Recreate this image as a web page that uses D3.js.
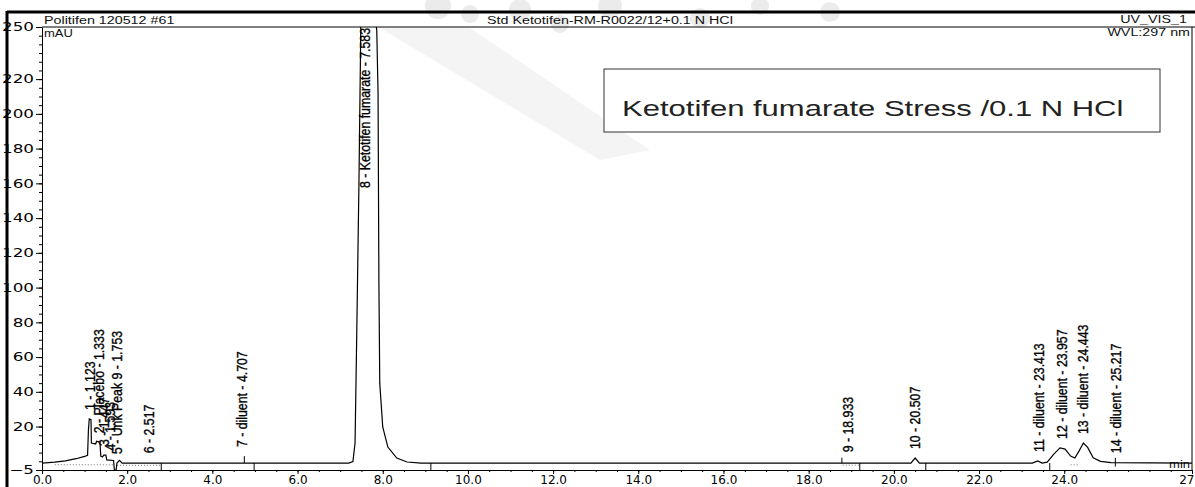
<!DOCTYPE html>
<html>
<head>
<meta charset="utf-8">
<script src="https://cdn.jsdelivr.net/npm/d3@7"></script>
<style>
body { margin: 0; background: #fff; }
svg { display: block; }
</style>
</head>
<body>
<div id="chart"></div>
<script>
// chromatogram trace (time in min, signal in mAU)
const traceTime  = [0.00, 0.30, 0.55, 0.80, 1.00, 1.07, 1.09, 1.11, 1.15, 1.16, 1.26, 1.28, 1.36, 1.38, 1.42, 1.45, 1.50, 1.52, 1.68, 1.70, 1.74, 1.76, 1.82, 1.88,
                    7.20, 7.30, 7.35, 7.39, 7.44, 7.49, 7.80, 7.86, 7.89, 7.91, 7.93, 8.00, 8.12, 8.33, 8.57, 8.90,
                    20.40, 20.50, 20.60, 23.25, 23.38, 23.48, 23.60, 23.75, 23.90, 24.02, 24.15, 24.25, 24.35, 24.45, 24.55, 24.68, 24.85, 25.10, 27.00];
const traceValue = [-1.0, -0.5, 0.3, 1.5, 2.8, 3.5, 18, 24.4, 24, 10.5, 10, 11.5, 11, 3, 2.5, 3.6, 3.6, 0.8, 0.5, -5, -5, -1, 0.5, -1,
                    -1, -0.2, 10.5, 73.9, 157.9, 260, 260, 248, 212, 102.7, 45, 19.8, 8.2, 1.9, -0.4, -1,
                    -1, 1.9, -1, -1, 0.2, -1, -0.5, 4, 7.7, 7, 3, 1.9, 6, 10.5, 8, 2, 0, -0.8, -1];

// peak annotations
const peakTime   = [1.123, 1.333, 1.447, 1.593, 1.753, 2.517, 4.707, 7.583, 18.933, 20.507, 23.413, 23.957, 24.443, 25.217];
const peakHeight = [24.4, 11, 3.6, 1, -1, -0.5, 3, 260, 0, 1.9, 0.2, 7.7, 10.5, -0.5];
const peakLabel  = ["1 - 1.123", "2 - Placebo - 1.333", "3 - 1.447", "4 - 1.593", "5 - Unk Peak 9 - 1.753", "6 - 2.517",
                    "7 - diluent - 4.707", "8 - Ketotifen fumarate - 7.583", "9 - 18.933", "10 - 20.507",
                    "11 - diluent - 23.413", "12 - diluent - 23.957", "13 - diluent - 24.443", "14 - diluent - 25.217"];

// peak start / end delimiters
const markTime = [2.8, 4.75, 4.98, 9.13, 18.78, 19.2, 20.75, 23.66, 25.2];
const markFrom = [-1, -1, -1, -1, -1, -1, -1, -1, -3];
const markTo   = [-5, 3, -5, -5, 2, -5, -5, -5, 2];

// dotted integration baselines
const baseStart = [0.3, 1.76, 18.8, 24.15];
const baseEnd   = [1.68, 2.8, 19.2, 24.35];
const baseValue = [-2, -2.3, -2.2, -2];

const xTicks = [0, 2, 4, 6, 8, 10, 12, 14, 16, 18, 20, 22, 24, 27];
const yTicks = [-5, 20, 40, 60, 80, 100, 120, 140, 160, 180, 200, 220, 250];

const width = 1195, height = 487;
const margin = ({top: 27, right: 3, bottom: 17, left: 42});
const stretch = 1.3; // the print-out is wider than it is tall

const svg = d3.select("#chart")
    .append("svg")
    .attr("width", width)
    .attr("height", height);

const x = d3.scaleLinear()
    .domain([0, 27])
    .range([margin.left, width - margin.right]);

const y = d3.scaleLinear()
    .domain([-5, 250])
    .range([height - margin.bottom, margin.top]);

// faint watermark behind the page
const wm = svg.append("g").attr("fill", "#ebebeb");
wm.append("path")
    .attr("d", "M380,28 L470,28 L650,150 L600,160 Z")
    .attr("opacity", 0.55);
[[438, 6, 13], [470, 14, 9], [520, 10, 11], [560, 24, 9], [610, 6, 12], [700, 18, 10], [760, 6, 9], [830, 12, 10]]
    .forEach(c => wm.append("circle").attr("cx", c[0]).attr("cy", c[1]).attr("r", c[2]));

// outer frame of the print-out
svg.append("line").attr("x1", 7).attr("x2", width).attr("y1", 12).attr("y2", 12)
    .attr("stroke", "#000").attr("stroke-width", 3);
svg.append("line").attr("x1", 7).attr("x2", 7).attr("y1", 11).attr("y2", height)
    .attr("stroke", "#000").attr("stroke-width", 3);
svg.append("line").attr("x1", margin.left).attr("x2", width).attr("y1", margin.top).attr("y2", margin.top)
    .attr("stroke", "#000");
svg.append("line").attr("x1", x(27)).attr("x2", x(27)).attr("y1", margin.top).attr("y2", y(-5))
    .attr("stroke", "#000");

// header texts, drawn a bit wider like the scanned print
const header = [
    {x: 44, y: 24, size: 11, anchor: "start", text: "Politifen 120512 #61"},
    {x: 487, y: 24, size: 11, anchor: "start", text: "Std Ketotifen-RM-R0022/12+0.1 N HCl"},
    {x: 1187, y: 23, size: 11, anchor: "end", text: "UV_VIS_1"},
    {x: 44, y: 37, size: 10, anchor: "start", text: "mAU"},
    {x: 1190, y: 36, size: 11, anchor: "end", text: "WVL:297 nm"},
    {x: 1190, y: 468, size: 10, anchor: "end", text: "min"}
];
svg.selectAll(".hdr")
    .data(header)
    .join("text")
    .attr("class", "hdr")
    .attr("font-family", "Liberation Sans, Arial, sans-serif")
    .attr("fill", "#111")
    .attr("font-size", d => d.size)
    .attr("text-anchor", d => d.anchor)
    .attr("transform", d => `translate(${d.x},${d.y}) scale(${stretch},1)`)
    .text(d => d.text);

// axes
const yAxis = g => g
    .attr("transform", `translate(${margin.left},0)`)
    .call(d3.axisLeft(y).tickValues(yTicks).tickSize(6).tickSizeOuter(0).tickFormat(d3.format("d")))
    .call(g => g.selectAll("text")
        .attr("font-family", "DejaVu Sans, sans-serif").attr("font-size", 12).attr("fill", "#000")
        .attr("x", -8 / 1.4)
        .attr("transform", "scale(1.4,1)"));

const yMinor = g => g
    .attr("transform", `translate(${margin.left},0)`)
    .call(d3.axisLeft(y).tickValues(d3.range(-5, 251, 5)).tickSize(3).tickFormat(""))
    .call(g => g.select(".domain").remove());

const xAxis = g => g
    .attr("transform", `translate(0,${y(-5)})`)
    .call(d3.axisBottom(x).tickValues(xTicks).tickSize(4).tickPadding(1).tickSizeOuter(0)
        .tickFormat(d => d === 27 ? "27" : d3.format(".1f")(d)))
    .call(g => g.selectAll("text")
        .attr("font-family", "DejaVu Sans, sans-serif").attr("font-size", 12).attr("fill", "#000")
        .attr("text-anchor", d => d === 27 ? "end" : "middle")
        .attr("x", d => d === 27 ? 2 : 0));

const xMinor = g => g
    .attr("transform", `translate(0,${y(-5)})`)
    .call(d3.axisBottom(x).tickValues(d3.range(0, 27.01, 0.5)).tickSize(2).tickFormat(""))
    .call(g => g.select(".domain").remove());

svg.append("g").call(yMinor);
svg.append("g").call(yAxis);
svg.append("g").call(xMinor);
svg.append("g").call(xAxis);

// clip for the off-scale main peak
svg.append("clipPath").attr("id", "plot")
    .append("rect")
    .attr("x", margin.left).attr("y", margin.top)
    .attr("width", x(27) - margin.left).attr("height", y(-5) - margin.top);

const trace = traceTime.map((t, i) => ({t: t, v: traceValue[i]}));

const line = d3.line()
    .x(d => x(d.t))
    .y(d => y(d.v));

svg.append("g").attr("clip-path", "url(#plot)")
    .selectAll(".base")
    .data(baseStart)
    .join("line")
    .attr("x1", d => x(d))
    .attr("x2", (d, i) => x(baseEnd[i]))
    .attr("y1", (d, i) => y(baseValue[i]))
    .attr("y2", (d, i) => y(baseValue[i]))
    .attr("stroke", "#777")
    .attr("stroke-dasharray", "1,2");

svg.append("path")
    .datum(trace)
    .attr("clip-path", "url(#plot)")
    .attr("fill", "none")
    .attr("stroke", "#000")
    .attr("stroke-width", 1.2)
    .attr("d", line);

svg.selectAll(".mark")
    .data(markTime)
    .join("line")
    .attr("class", "mark")
    .attr("x1", d => x(d)).attr("x2", d => x(d))
    .attr("y1", (d, i) => y(markFrom[i]))
    .attr("y2", (d, i) => y(markTo[i]))
    .attr("stroke", "#000");

// rotated peak labels (narrow type)
svg.selectAll(".peak")
    .data(peakTime)
    .join("text")
    .attr("class", "peak")
    .attr("font-family", "Liberation Sans, Arial, sans-serif")
    .attr("font-size", 14)
    .attr("fill", "#000")
    .attr("stroke", "#000")
    .attr("stroke-width", 0.35)
    .attr("text-anchor", (d, i) => peakHeight[i] > 250 ? "end" : "start")
    .attr("transform", (d, i) => {
        const py = peakHeight[i] > 250 ? margin.top + 1 : y(peakHeight[i]) - 9;
        return `translate(${x(d) + 5},${py}) rotate(-90) scale(0.88,1)`;
    })
    .text((d, i) => peakLabel[i]);

// boxed caption
svg.append("rect")
    .attr("x", 604).attr("y", 69)
    .attr("width", 556).attr("height", 63)
    .attr("fill", "#fff")
    .attr("stroke", "#333");

svg.append("text")
    .attr("font-family", "Liberation Sans, Arial, sans-serif")
    .attr("font-size", 22)
    .attr("fill", "#222")
    .attr("transform", "translate(622,116) scale(1.41,1)")
    .text("Ketotifen fumarate Stress /0.1 N HCl");
</script>
</body>
</html>
